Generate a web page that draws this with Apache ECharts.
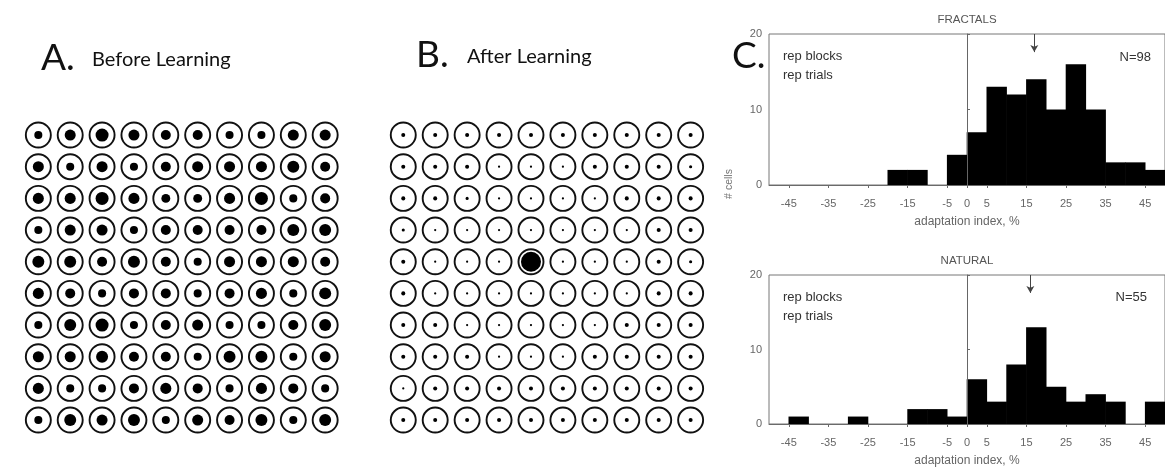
<!DOCTYPE html>
<html>
<head>
<meta charset="utf-8">
<script src="https://cdn.jsdelivr.net/npm/echarts@6/dist/echarts.min.js"></script>
<style>
  html, body { margin: 0; padding: 0; background: #fff; }
  #chart { width: 1165px; height: 468px; }
</style>
</head>
<body>
<div id="chart"></div>
<script>
// Relative response of each unit in the 10x10 map (1 = strongest), row by row
const responsesBefore = [
  [0.62, 0.85, 1.00, 0.85, 0.77, 0.77, 0.62, 0.62, 0.85, 0.85],
  [0.85, 0.62, 0.85, 0.62, 0.77, 0.85, 0.85, 0.85, 0.92, 0.77],
  [0.85, 0.85, 1.00, 0.85, 0.69, 0.69, 0.85, 1.00, 0.62, 0.77],
  [0.62, 0.85, 0.85, 0.62, 0.77, 0.77, 0.77, 0.77, 0.92, 0.92],
  [0.92, 0.92, 0.77, 0.92, 0.77, 0.62, 0.85, 0.85, 0.85, 0.77],
  [0.85, 0.77, 0.62, 0.77, 0.77, 0.62, 0.77, 0.85, 0.62, 0.92],
  [0.62, 0.92, 1.00, 0.62, 0.77, 0.85, 0.62, 0.62, 0.77, 0.92],
  [0.85, 0.85, 0.92, 0.77, 0.77, 0.62, 0.92, 0.92, 0.62, 0.85],
  [0.85, 0.62, 0.62, 0.77, 0.85, 0.77, 0.62, 0.85, 0.77, 0.62],
  [0.62, 0.92, 0.85, 0.92, 0.62, 0.85, 0.77, 0.92, 0.62, 0.92]
];
const responsesAfter = [
  [0.31, 0.31, 0.31, 0.31, 0.31, 0.31, 0.31, 0.31, 0.31, 0.31],
  [0.31, 0.31, 0.31, 0.17, 0.17, 0.17, 0.31, 0.31, 0.31, 0.24],
  [0.31, 0.31, 0.24, 0.17, 0.17, 0.17, 0.17, 0.31, 0.31, 0.31],
  [0.24, 0.17, 0.17, 0.17, 0.17, 0.17, 0.17, 0.17, 0.31, 0.31],
  [0.31, 0.17, 0.17, 0.17, 1.54, 0.17, 0.17, 0.17, 0.31, 0.24],
  [0.31, 0.17, 0.17, 0.17, 0.17, 0.17, 0.17, 0.17, 0.31, 0.31],
  [0.31, 0.31, 0.17, 0.17, 0.17, 0.17, 0.17, 0.31, 0.31, 0.31],
  [0.31, 0.31, 0.31, 0.17, 0.17, 0.17, 0.31, 0.31, 0.31, 0.31],
  [0.17, 0.31, 0.31, 0.31, 0.31, 0.31, 0.31, 0.31, 0.31, 0.31],
  [0.31, 0.31, 0.31, 0.31, 0.31, 0.31, 0.31, 0.31, 0.31, 0.31]
];

// Histogram bins (left edges, width 5 %) and cell counts
const binStarts = [-50, -45, -40, -35, -30, -25, -20, -15, -10, -5, 0, 5, 10, 15, 20, 25, 30, 35, 40, 45];
const binWidth = 5;
const countsFractals = [0, 0, 0, 0, 0, 0, 2, 2, 0, 4, 7, 13, 12, 14, 10, 16, 10, 3, 3, 2];
const countsNatural  = [0, 1, 0, 0, 1, 0, 0, 2, 2, 1, 6, 3, 8, 13, 5, 3, 4, 3, 0, 3];
const meanFractals = 17;
const meanNatural = 16;
const xTickValues = [-45, -35, -25, -15, -5, 0, 5, 15, 25, 35, 45];

const MAX_DOT = 13;   // px diameter of a full-strength response
const RING = 25;      // px diameter of each unit's outline

function gridPoints(matrix) {
  const pts = [];
  matrix.forEach((row, r) => row.forEach((v, c) => pts.push([c + 1, r + 1, v])));
  return pts;
}

function mapAxes(gridIndex) {
  return {
    x: { gridIndex, type: 'value', min: 0.5, max: 10.5, show: false },
    y: { gridIndex, type: 'value', min: 0.5, max: 10.5, inverse: true, show: false }
  };
}

function mapSeries(idx, matrix) {
  const pts = gridPoints(matrix);
  return [
    {
      type: 'scatter', xAxisIndex: idx, yAxisIndex: idx, data: pts,
      symbol: 'circle', symbolSize: RING, silent: true, z: 2,
      itemStyle: { color: 'rgba(255,255,255,0)', borderColor: '#111', borderWidth: 1.9, opacity: 1 }
    },
    {
      type: 'scatter', xAxisIndex: idx, yAxisIndex: idx, data: pts,
      symbol: 'circle', symbolSize: v => Math.max(2.2, v[2] * MAX_DOT), silent: true, z: 3,
      itemStyle: { color: '#000', opacity: 1 }
    }
  ];
}

const smallFont = 'Liberation Sans, Arial, sans-serif';

function histAxes(gridIndex) {
  const grey = '#6a6a6a';
  return {
    x: {
      gridIndex, type: 'value', min: -50, max: 50, interval: 5,
      axisLine: { show: true, onZero: false, lineStyle: { color: grey, width: 1 } },
      axisTick: { show: true, customValues: xTickValues, length: 3, lineStyle: { color: grey } },
      axisLabel: { customValues: xTickValues, color: '#666', fontSize: 11, margin: 13, fontFamily: smallFont },
      splitLine: { show: false },
      name: 'adaptation index, %', nameLocation: 'middle', nameGap: 31,
      nameTextStyle: { color: '#666', fontSize: 12, fontFamily: smallFont }
    },
    y: {
      gridIndex, type: 'value', min: 0, max: 20, interval: 10,
      axisLine: { show: true, lineStyle: { color: grey, width: 1 } },
      axisTick: { show: true, inside: true, length: 3, lineStyle: { color: grey } },
      axisLabel: { color: '#666', fontSize: 11, margin: 7, fontFamily: smallFont },
      splitLine: { show: false }
    }
  };
}

function histSeries(idx, counts, mean) {
  const data = binStarts.map((b, i) => [b, counts[i]]);
  return [
    {
      type: 'custom', xAxisIndex: idx, yAxisIndex: idx, data, silent: true, z: 3,
      encode: { x: 0, y: 1 },
      renderItem: (params, api) => {
        const lo = api.value(0), n = api.value(1);
        if (!n) return null;
        const p0 = api.coord([lo, n]);
        const p1 = api.coord([lo + binWidth, 0]);
        return { type: 'rect', shape: { x: p0[0] - 0.3, y: p0[1], width: p1[0] - p0[0] + 0.6, height: p1[1] - p0[1] },
          style: { fill: '#000' } };
      },
      markLine: {
        silent: true, symbol: ['none', 'none'], label: { show: false },
        lineStyle: { color: '#666', width: 1, type: 'solid' },
        data: [[{ coord: [0, 0] }, { coord: [0, 20] }]]
      }
    },
    {
      type: 'line', xAxisIndex: idx, yAxisIndex: idx, data: [[mean, 20]], showSymbol: false,
      silent: true, lineStyle: { opacity: 0 },
      markLine: {
        silent: true, symbol: ['none', 'arrow'], symbolSize: [6, 7], label: { show: false },
        lineStyle: { color: '#444', width: 1, type: 'solid' },
        data: [[{ coord: [mean, 20] }, { coord: [mean, 17.6] }]]
      }
    }
  ];
}

const mA = mapAxes(0), mB = mapAxes(1), hF = histAxes(2), hN = histAxes(3);

const titleFont = 'Lato, "Open Sans", sans-serif';
function txt(x, y, text, size, style, extra) {
  return Object.assign({ type: 'text', x, y, silent: true,
    style: Object.assign({ text, fontSize: size, fontFamily: smallFont, fill: '#222',
      align: 'left', verticalAlign: 'middle' }, style || {}) }, extra || {});
}

const option = {
  backgroundColor: '#ffffff',
  animation: false,
  grid: [
    { left: 22.4, top: 119.2, width: 318.7, height: 316.7 },
    { left: 387.3, top: 119.2, width: 319.3, height: 316.7 },
    { left: 769, top: 34, width: 397, height: 151, show: true, borderColor: '#777', borderWidth: 1 },
    { left: 769, top: 275, width: 397, height: 150, show: true, borderColor: '#777', borderWidth: 1 }
  ],
  xAxis: [mA.x, mB.x, hF.x, hN.x],
  yAxis: [mA.y, mB.y, hF.y, hN.y],
  series: [
    ...mapSeries(0, responsesBefore),
    ...mapSeries(1, responsesAfter),
    ...histSeries(2, countsFractals, meanFractals),
    ...histSeries(3, countsNatural, meanNatural)
  ],
  graphic: [
    txt(41, 58, 'A.', 37, { fontFamily: titleFont, fill: '#111' }),
    txt(92, 60, 'Before Learning', 20, { fontFamily: titleFont, fill: '#111' }),
    txt(416, 55, 'B.', 37, { fontFamily: titleFont, fill: '#111' }),
    txt(467, 57, 'After Learning', 20, { fontFamily: titleFont, fill: '#111' }),
    txt(732, 56, 'C.', 37, { fontFamily: titleFont, fill: '#111' }),
    txt(967, 20, 'FRACTALS', 11.5, { align: 'center', fill: '#555' }),
    txt(967, 261, 'NATURAL', 11.5, { align: 'center', fill: '#555' }),
    txt(783, 56, 'rep blocks', 13, { fill: '#333' }),
    txt(783, 75, 'rep trials', 13, { fill: '#333' }),
    txt(1151, 57, 'N=98', 13, { align: 'right', fill: '#333' }),
    txt(783, 297, 'rep blocks', 13, { fill: '#333' }),
    txt(783, 316, 'rep trials', 13, { fill: '#333' }),
    txt(1147, 297, 'N=55', 13, { align: 'right', fill: '#333' }),
    txt(729, 184, '# cells', 10.5, { align: 'center', fill: '#777' }, { rotation: Math.PI / 2 })
  ]
};

const chart = echarts.init(document.getElementById('chart'), null, { renderer: 'canvas' });
chart.setOption(option);
</script>
</body>
</html>
